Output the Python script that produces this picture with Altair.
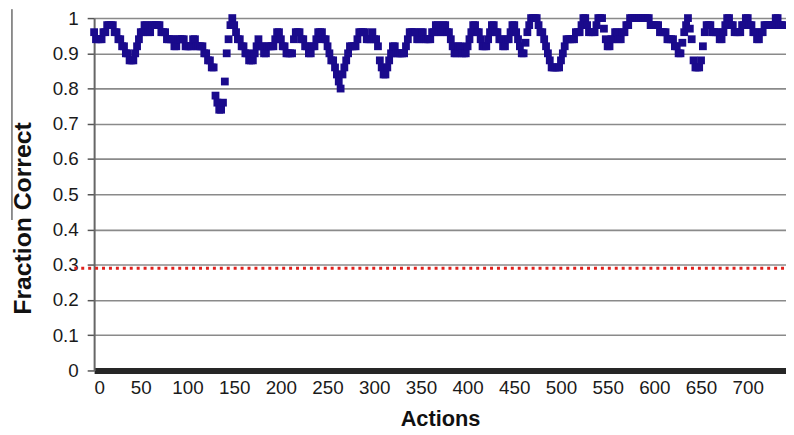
import altair as alt
import pandas as pd

fraction = [
    0.96, 0.94, 0.94, 0.94, 0.94, 0.96, 0.96, 0.98, 0.98, 0.98,
    0.98, 0.96, 0.96, 0.94, 0.94, 0.92, 0.92, 0.90, 0.90, 0.88,
    0.88, 0.88, 0.90, 0.92, 0.94, 0.96, 0.96, 0.98, 0.98, 0.96,
    0.96, 0.98, 0.98, 0.98, 0.98, 0.98, 0.96, 0.96, 0.96, 0.94,
    0.94, 0.94, 0.94, 0.92, 0.92, 0.94, 0.94, 0.94, 0.94, 0.92,
    0.92, 0.92, 0.92, 0.94, 0.94, 0.92, 0.92, 0.92, 0.92, 0.90,
    0.90, 0.88, 0.88, 0.86, 0.86, 0.78, 0.76, 0.74, 0.74, 0.76,
    0.82, 0.90, 0.94, 0.98, 1.00, 0.98, 0.96, 0.94, 0.94, 0.92,
    0.92, 0.90, 0.90, 0.88, 0.88, 0.88, 0.90, 0.92, 0.94, 0.92,
    0.92, 0.90, 0.90, 0.92, 0.92, 0.92, 0.92, 0.94, 0.96, 0.96,
    0.94, 0.92, 0.92, 0.90, 0.90, 0.90, 0.90, 0.94, 0.96, 0.96,
    0.96, 0.94, 0.94, 0.92, 0.92, 0.90, 0.90, 0.92, 0.92, 0.94,
    0.96, 0.96, 0.96, 0.94, 0.94, 0.92, 0.90, 0.88, 0.88, 0.86,
    0.84, 0.82, 0.80, 0.84, 0.86, 0.88, 0.90, 0.92, 0.92, 0.92,
    0.92, 0.94, 0.96, 0.96, 0.96, 0.96, 0.94, 0.94, 0.94, 0.96,
    0.94, 0.94, 0.92, 0.88, 0.86, 0.84, 0.84, 0.86, 0.88, 0.90,
    0.92, 0.92, 0.90, 0.90, 0.90, 0.90, 0.90, 0.92, 0.94, 0.96,
    0.96, 0.96, 0.96, 0.94, 0.94, 0.96, 0.96, 0.94, 0.94, 0.94,
    0.94, 0.96, 0.96, 0.98, 0.98, 0.96, 0.96, 0.98, 0.98, 0.96,
    0.96, 0.94, 0.92, 0.90, 0.90, 0.92, 0.92, 0.90, 0.90, 0.90,
    0.92, 0.94, 0.96, 0.98, 0.98, 0.96, 0.96, 0.94, 0.92, 0.92,
    0.92, 0.94, 0.96, 0.98, 0.98, 0.96, 0.96, 0.94, 0.94, 0.92,
    0.92, 0.94, 0.94, 0.96, 0.98, 0.98, 0.96, 0.94, 0.92, 0.90,
    0.90, 0.93, 0.96, 0.98, 1.00, 1.00, 1.00, 1.00, 0.98, 0.96,
    0.96, 0.94, 0.92, 0.90, 0.88, 0.86, 0.86, 0.86, 0.86, 0.86,
    0.88, 0.90, 0.92, 0.94, 0.94, 0.94, 0.94, 0.94, 0.96, 0.96,
    0.96, 0.98, 1.00, 1.00, 0.98, 0.96, 0.96, 0.96, 0.96, 0.98,
    1.00, 1.00, 1.00, 0.97, 0.94, 0.92, 0.92, 0.94, 0.94, 0.96,
    0.96, 0.94, 0.94, 0.96, 0.96, 0.98, 0.98, 1.00, 1.00, 1.00,
    1.00, 1.00, 1.00, 1.00, 1.00, 1.00, 1.00, 1.00, 0.98, 0.98,
    0.98, 0.98, 0.98, 0.96, 0.96, 0.96, 0.96, 0.94, 0.94, 0.94,
    0.94, 0.92, 0.92, 0.90, 0.90, 0.93, 0.96, 0.98, 1.00, 0.97,
    0.94, 0.88, 0.86, 0.86, 0.86, 0.88, 0.92, 0.96, 0.98, 0.98,
    0.98, 0.96, 0.96, 0.96, 0.96, 0.94, 0.94, 0.96, 0.98, 1.00,
    1.00, 0.98, 0.98, 0.96, 0.96, 0.96, 0.96, 0.98, 0.98, 1.00,
    1.00, 0.98, 0.98, 0.96, 0.96, 0.94, 0.94, 0.96, 0.96, 0.98,
    0.98, 0.98, 0.98, 0.98, 0.98, 1.00, 1.00, 0.98, 0.98, 0.98,
]
actions = list(range(0, 2 * len(fraction), 2))

chance_level = [0.29]
x_ticks = [0, 50, 100, 150, 200, 250, 300, 350, 400, 450, 500, 550, 600, 650, 700]
y_ticks = [0, 0.1, 0.2, 0.3, 0.4, 0.5, 0.6, 0.7, 0.8, 0.9, 1]

df = pd.DataFrame({"Actions": actions, "Fraction": fraction})
chance_df = pd.DataFrame({"Fraction": chance_level})

FONT = "Liberation Sans"

y_axis = alt.Axis(
    values=y_ticks,
    format=".1~f",
    title="Fraction Correct",
    grid=True,
    gridColor="#8a8a8a",
    gridWidth=1.6,
    labelOverlap=False,
    domainColor="#666666",
    domainWidth=2,
    tickColor="#555555",
    tickSize=7,
    tickWidth=1.5,
    labelPadding=9,
    labelFontSize=19,
    labelColor="#1a1a1a",
    labelFont=FONT,
    titleFont=FONT,
    titleFontSize=25,
    titleFontWeight="bold",
    titleColor="#111111",
    titleX=-59,
    titleY=202,
)
y_scale = alt.Scale(domain=[0, 1], nice=False)

points = alt.Chart(df).mark_square(size=62, color="#1a0a8c", opacity=1).encode(
    x=alt.X(
        "Actions:Q",
        scale=alt.Scale(domain=[0, 741], nice=False, zero=False),
        axis=alt.Axis(
            values=x_ticks,
            format="d",
            title="Actions",
            grid=False,
            ticks=False,
            labelOverlap=False,
            domainColor="#262626",
            domainWidth=6,
            labelPadding=8,
            labelFontSize=19,
            labelColor="#1a1a1a",
            labelFont=FONT,
            titleFont=FONT,
            titleFontSize=22,
            titleFontWeight="bold",
            titleColor="#111111",
            titlePadding=12,
        ),
    ),
    y=alt.Y("Fraction:Q", scale=y_scale, axis=y_axis),
)

chance = alt.Chart(chance_df).mark_rule(
    color="#e0201c", strokeWidth=3, strokeDash=[3, 4]
).encode(
    y=alt.Y("Fraction:Q", scale=y_scale, axis=y_axis),
    x=alt.value(-20),
    x2=alt.value(699),
)

side_line = alt.Chart(chance_df).mark_rule(color="#222222", strokeWidth=1).encode(
    x=alt.value(-83), y=alt.value(-9), y2=alt.value(204)
)

chart = (
    alt.layer(points, chance, side_line)
    .properties(
        width=699,
        height=356,
        autosize=alt.AutoSizeParams(type="none"),
        padding={"left": 87, "top": 8, "right": 0, "bottom": 62},
    )
    .configure_view(stroke=None)
    .configure(background="white")
)

chart.save("out.html", embed_options={"renderer": "svg", "actions": False})
